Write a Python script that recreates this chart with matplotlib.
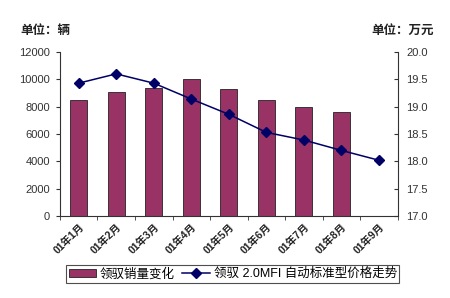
import matplotlib
matplotlib.use("Agg")
import matplotlib.pyplot as plt
import numpy as np

plt.rcParams['font.family'] = ['Liberation Sans', 'Noto Sans CJK SC', 'DejaVu Sans']

categories = ["01年1月", "01年2月", "01年3月", "01年4月", "01年5月",
              "01年6月", "01年7月", "01年8月", "01年9月"]
sales = [8500, 9100, 9400, 10000, 9300, 8500, 8000, 7600, np.nan]
price = [19.43, 19.6, 19.43, 19.14, 18.86, 18.53, 18.39, 18.2, 18.02]
left_ticks = [0, 2000, 4000, 6000, 8000, 10000, 12000]
right_ticks = [17.0, 17.5, 18.0, 18.5, 19.0, 19.5, 20.0]
bar_label = "领驭销量变化"
line_label = "领驭 2.0MFI 自动标准型价格走势"

fig = plt.figure(figsize=(4.5, 2.98), dpi=100)
ax = fig.add_axes([0.133, 0.275, 0.751, 0.5505])
x = np.arange(len(categories))
bars = ax.bar(x, sales, width=0.45, color='#993366', edgecolor='#222222', linewidth=0.6,
              label=bar_label, zorder=2)
ax.set_xlim(-0.5, len(categories) - 0.5)
ax.set_ylim(0, 12000)
ax.set_yticks(left_ticks)
ax.set_yticklabels([str(t) for t in left_ticks], fontsize=8, color='#333333')
ax.set_xticks(x)
ax.set_xticklabels(categories, rotation=45, ha='right', rotation_mode='anchor',
                   fontsize=7.5, color='#222222', fontweight='bold')
ax.set_xticks(np.arange(-0.5, len(categories)), minor=True)
ax.tick_params(axis='x', which='major', length=0, pad=4)
ax.tick_params(axis='x', which='minor', length=3, color='#333333')
ax.tick_params(axis='y', length=3, color='#333333', pad=4)
for s in ['top', 'right']:
    ax.spines[s].set_visible(False)
for s in ['left', 'bottom']:
    ax.spines[s].set_color('#333333')
    ax.spines[s].set_linewidth(0.8)

ax2 = ax.twinx()
line, = ax2.plot(x, price, color='#000066', marker='D', markersize=5.5, linewidth=1.1,
                 label=line_label, zorder=3)
ax2.set_ylim(17, 20)
ax2.set_yticks(right_ticks)
ax2.set_yticklabels([f"{t:.1f}" for t in right_ticks], fontsize=8, color='#333333')
ax2.tick_params(axis='y', direction='in', length=3, color='#333333', pad=6)
for s in ['top', 'left', 'bottom']:
    ax2.spines[s].set_visible(False)
ax2.spines['right'].set_color('#333333')
ax2.spines['right'].set_linewidth(0.8)

fig.text(0.045, 0.885, "单位：辆", fontsize=9, fontweight='bold', color='#222222')
fig.text(0.825, 0.885, "单位：万元", fontsize=9, fontweight='bold', color='#222222')

leg = fig.legend([bars, line], [bar_label, line_label], loc='lower left',
                 bbox_to_anchor=(0.133, 0.03), ncol=2, fontsize=9, frameon=True,
                 fancybox=False, edgecolor='#222222', handlelength=2.2,
                 columnspacing=0.6, handletextpad=0.3, borderpad=0.2)
leg.get_frame().set_linewidth(0.8)

fig.savefig("out.png", dpi=100)
